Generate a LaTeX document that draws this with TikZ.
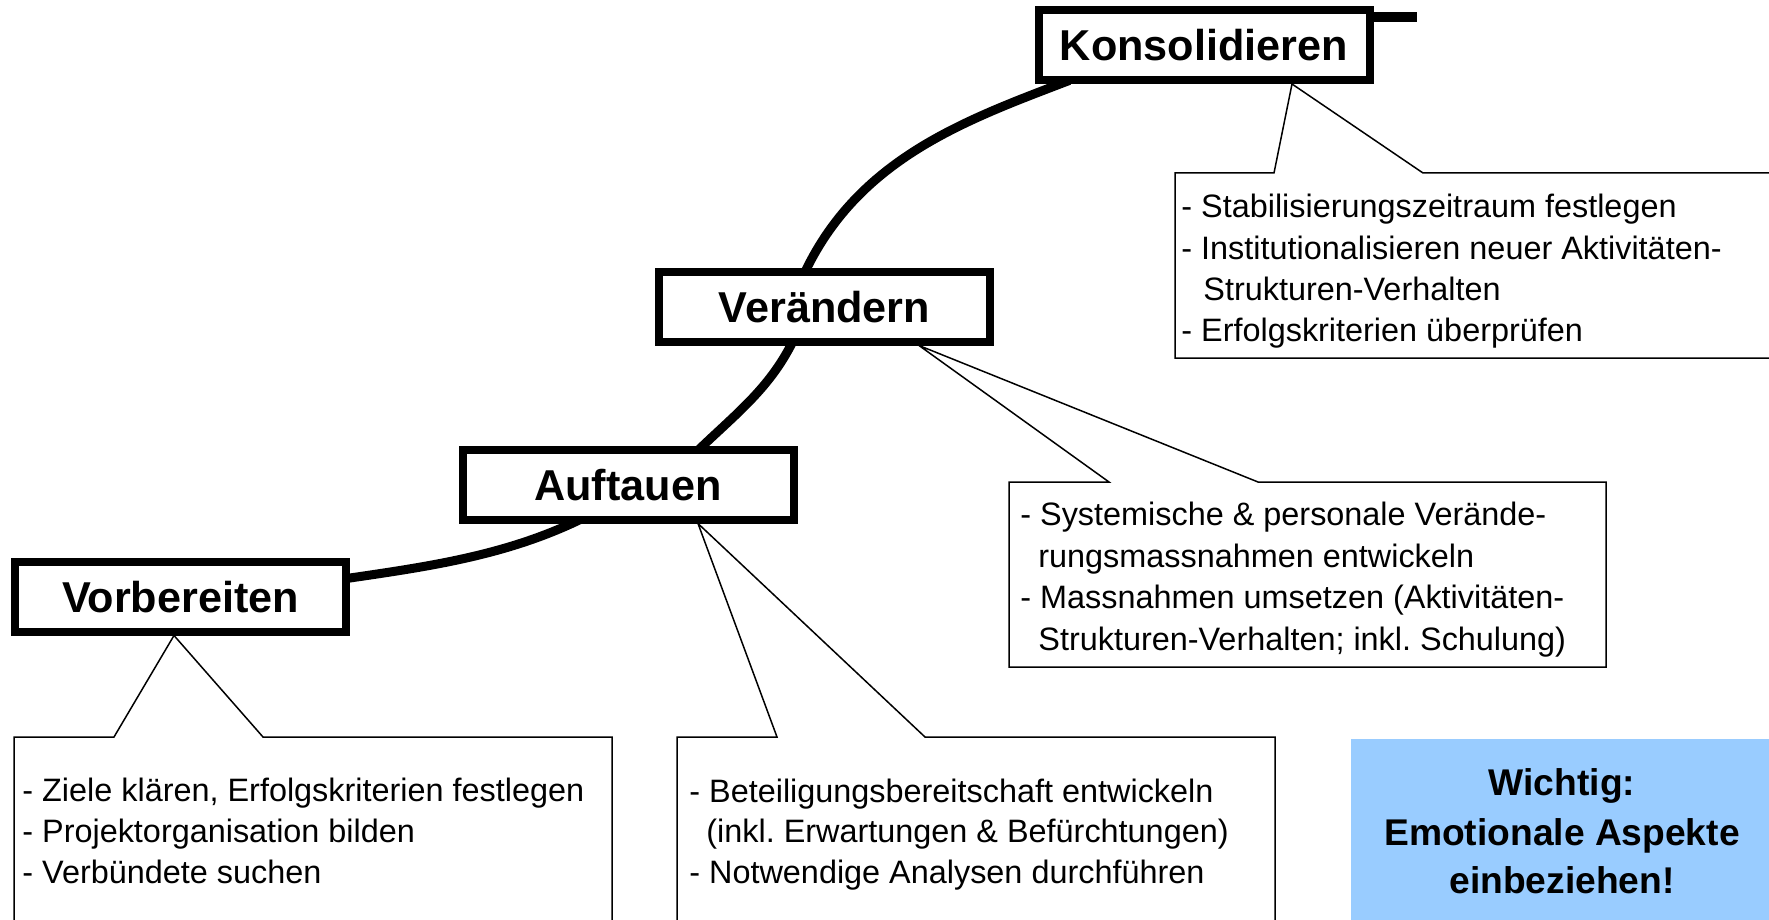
\documentclass[tikz,border=0pt]{standalone}
\usepackage{fontspec}
\setmainfont{Liberation Sans}
\usetikzlibrary{backgrounds}
\definecolor{notefill}{RGB}{153,204,255}
\frenchspacing
\begin{document}
\begin{tikzpicture}[x=0.5pt,y=-0.5pt,
  phase/.style={draw=black, line width=4pt, fill=white, minimum width=165.5pt,
    minimum height=35pt, inner sep=0pt, font=\fontsize{21.6}{24}\selectfont\bfseries,
    text height=15.5pt, text depth=0pt},
  curve/.style={line width=4.5pt, shorten <=-5pt, shorten >=-5pt},
  callout/.style={draw=black, line width=0.75pt, fill=white, line join=miter},
  bodytext/.style={anchor=base west, inner sep=0pt, font=\fontsize{16.2}{19}\selectfont\frenchspacing},
  notetext/.style={anchor=base, inner sep=0pt, font=\fontsize{18.6}{22}\selectfont\bfseries},
]
\path[use as bounding box, clip] (0,0) rectangle (1769,920);

% phase boxes
\node[phase] (vor) at (180.5,596.5) {Vorbereiten};
\node[phase] (auf) at (628,484.5) {Auftauen};
\node[phase] (ver) at (824.5,306.5) {Verändern};
\node[phase] (kon) at (1204,45) {Konsolidieren};
\coordinate (kend) at (1417,17);

% thick curve behind the boxes
\begin{scope}[on background layer]
  \draw[curve] ([yshift=9.25pt]vor.east) .. controls +(75,-11) and +(-68,33) .. ([xshift=-28pt]auf.south);
  \draw[curve] ([xshift=37.5pt]auf.north) .. controls +(33,-32) and +(-19.5,42) .. ([xshift=-16.75pt]ver.south);
  \draw[curve] ([xshift=-8.75pt]ver.north) .. controls +(49.8,-109.2) and +(-93.4,35.8) .. ([xshift=-72pt]kon.south);
  \draw[line width=5pt] ([yshift=14pt,xshift=-4pt]kon.east) -- (kend);
\end{scope}

% callouts
\draw[callout] (14,940) -- (14,737) -- (114,737) -- ([xshift=-3.25pt]vor.south) -- (263,737) -- (612,737) -- (612,940) -- cycle;
\draw[callout] (677,940) -- (677,737) -- (777,737) -- ([xshift=35pt]auf.south) -- (925,737) -- (1275,737) -- (1275,940) -- cycle;
\draw[callout] (1009,667) -- (1009,482) -- (1109,482) -- ([xshift=47.25pt]ver.south) -- (1258,482) -- (1606,482) -- (1606,667) -- cycle;
\draw[callout] (1175,358) -- (1175,173) -- (1274,173) -- ([xshift=44pt]kon.south) -- (1423,173) -- (1790,173) -- (1790,358) -- cycle;

% redraw boxes on top of callout tips
\node[phase] at (vor) {Vorbereiten};
\node[phase] at (auf) {Auftauen};
\node[phase] at (ver) {Verändern};
\node[phase] at (kon) {Konsolidieren};

% callout texts
\node[bodytext] (v1) at (22,801) {- Ziele klären, Erfolgskriterien festlegen};
\node[bodytext] (v2) at (22,842) {- Projektorganisation bilden};
\node[bodytext] (v3) at (22,883) {- Verbündete suchen};

\node[bodytext] (a1) at (689,802) {- Beteiligungsbereitschaft entwickeln};
\node[bodytext] (a2) at (706,842.5) {(inkl. Erwartungen \& Befürchtungen)};
\node[bodytext] (a3) at (689,883) {- Notwendige Analysen durchführen};

\node[bodytext] (r1) at (1020,525) {- Systemische \& personale Verände-};
\node[bodytext] (r2) at (1038,567) {rungsmassnahmen entwickeln};
\node[bodytext] (r3) at (1020,608) {- Massnahmen umsetzen (Aktivitäten-};
\node[bodytext] (r4) at (1038,650) {Strukturen-Verhalten; inkl. Schulung)};

\node[bodytext] (k1) at (1181,218) {- Stabilisierungszeitraum festlegen};
\node[bodytext] (k2) at (1181,259) {- Institutionalisieren neuer Aktivitäten-};
\node[bodytext] (k3) at (1203,300) {Strukturen-Verhalten};
\node[bodytext] (k4) at (1181,341) {- Erfolgskriterien überprüfen};

% note box
\fill[notefill] (1351,739) rectangle (1790,940);
\node[notetext] (n1) at (1562,795) {Wichtig:};
\node[notetext] (n2) at (1562,845) {Emotionale Aspekte};
\node[notetext] (n3) at (1562,893) {einbeziehen!};
\end{tikzpicture}
\end{document}
